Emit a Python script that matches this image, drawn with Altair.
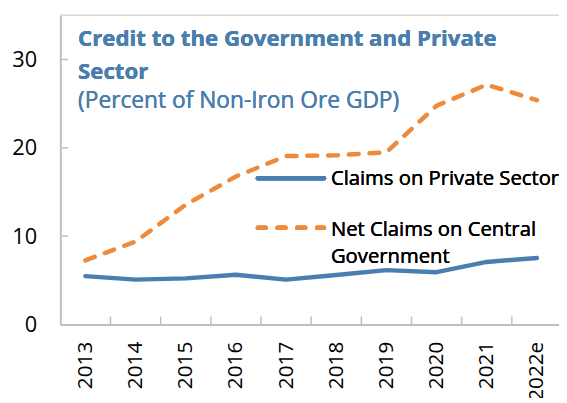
import altair as alt
import pandas as pd

years = ["2013", "2014", "2015", "2016", "2017", "2018", "2019", "2020", "2021", "2022e"]
private_claims = [5.47, 5.08, 5.22, 5.63, 5.08, 5.60, 6.15, 5.92, 7.08, 7.53]
govt_claims = [7.26, 9.39, 13.56, 16.76, 19.07, 19.15, 19.50, 24.77, 27.15, 25.40]
y_tick_values = [0, 10, 20, 30]
inner_y_ticks = [10, 20, 30]
x_boundaries = [0.5, 1.5, 2.5, 3.5, 4.5, 5.5, 6.5, 7.5, 8.5]
title_lines = ["Credit to the Government and Private", "Sector"]
subtitle = "(Percent of Non-Iron Ore GDP)"
legend_private = "Claims on Private Sector"
legend_govt = ["Net Claims on Central", "Government"]

W, H = 505, 313
BLUE = "#4A7EB0"
ORANGE = "#EE8A3B"
TITLE_BLUE = "#4A7EAD"
AXIS = "#BFBFBF"
FONT = "Open Sans"

df = pd.DataFrame({"i": list(range(len(years))), "year": years,
                   "private": private_claims, "govt": govt_claims})
ticks_y_df = pd.DataFrame({"v": inner_y_ticks})
ticks_x_df = pd.DataFrame({"b": x_boundaries})

label_expr = "[" + ",".join("'%s'" % y for y in years) + "][datum.value]"
xscale = alt.Scale(domain=[-0.5, 9.44], nice=False, zero=False)
yscale = alt.Scale(domain=[0, 35], nice=False)

x_axis = alt.Axis(values=list(range(len(years))), labelExpr=label_expr, title=None,
                  grid=False, ticks=False, tickSize=0, domainColor=AXIS, domainWidth=2,
                  labelAngle=270, labelFontSize=21, labelPadding=17, labelColor="#000000",
                  labelFont=FONT, labelFlush=False, labelOverlap=False)
y_axis = alt.Axis(values=y_tick_values, title=None, grid=False, ticks=False, tickSize=0,
                  domainColor=AXIS, domainWidth=2, labelFontSize=22, labelPadding=24,
                  labelColor="#000000", labelFont=FONT)

base = alt.Chart(df)
line_private = base.mark_line(color=BLUE, strokeWidth=4.5, strokeCap="round", strokeJoin="round").encode(
    x=alt.X("i:Q", scale=xscale, axis=x_axis),
    y=alt.Y("private:Q", scale=yscale, axis=y_axis),
)
line_govt = base.mark_line(color=ORANGE, strokeWidth=4.5, strokeCap="round", strokeDash=[10, 11]).encode(
    x=alt.X("i:Q", scale=xscale, axis=x_axis),
    y=alt.Y("govt:Q", scale=yscale, axis=y_axis),
)

ytick_rules = alt.Chart(ticks_y_df).mark_rule(color=AXIS, strokeWidth=1.5).encode(
    y=alt.Y("v:Q", scale=yscale, axis=y_axis), x=alt.value(0), x2=alt.value(8))
xtick_rules = alt.Chart(ticks_x_df).mark_rule(color=AXIS, strokeWidth=1.5).encode(
    x=alt.X("b:Q", scale=xscale, axis=x_axis), y=alt.value(H), y2=alt.value(H - 8))
top_border = alt.Chart(ticks_y_df).mark_rule(color="#D9D9D9", strokeWidth=1.5).encode(
    x=alt.value(0), x2=alt.value(W), y=alt.value(0))

def txt(s, x, y, size, color, weight="normal"):
    return alt.Chart(ticks_y_df).mark_text(align="left", baseline="alphabetic", font=FONT,
                                          fontSize=size, fontWeight=weight, color=color).encode(
        x=alt.value(x), y=alt.value(y), text=alt.value(s))

title1 = txt(title_lines[0], 18, 31, 22.5, TITLE_BLUE, "bold")
title2 = txt(title_lines[1], 18, 64, 22.5, TITLE_BLUE, "bold")
sub = txt(subtitle, 18, 94, 23, TITLE_BLUE)

leg_line1 = alt.Chart(ticks_y_df).mark_rule(color=BLUE, strokeWidth=4.5, strokeCap="round").encode(
    x=alt.value(200), x2=alt.value(267), y=alt.value(165))
leg_line2 = alt.Chart(ticks_y_df).mark_rule(color=ORANGE, strokeWidth=4.5, strokeCap="round",
                                            strokeDash=[8, 12]).encode(
    x=alt.value(200), x2=alt.value(267), y=alt.value(215))
leg_t1 = txt(legend_private, 274, 172, 20.5, "#000000")
leg_t2 = txt(legend_govt[0], 274, 223, 20.5, "#000000")
leg_t3 = txt(legend_govt[1], 274, 251, 20.5, "#000000")

chart = alt.layer(
    line_private, line_govt, top_border, ytick_rules, xtick_rules,
    title1, title2, sub, leg_line1, leg_line2, leg_t1, leg_t2, leg_t3
).properties(
    width=W, height=H,
    autosize=alt.AutoSizeParams(type="none"),
    padding={"left": 53, "top": 5, "right": 0, "bottom": 72},
).configure_view(stroke=None)

chart.save("out.html", embed_options={"renderer": "svg", "actions": False})
